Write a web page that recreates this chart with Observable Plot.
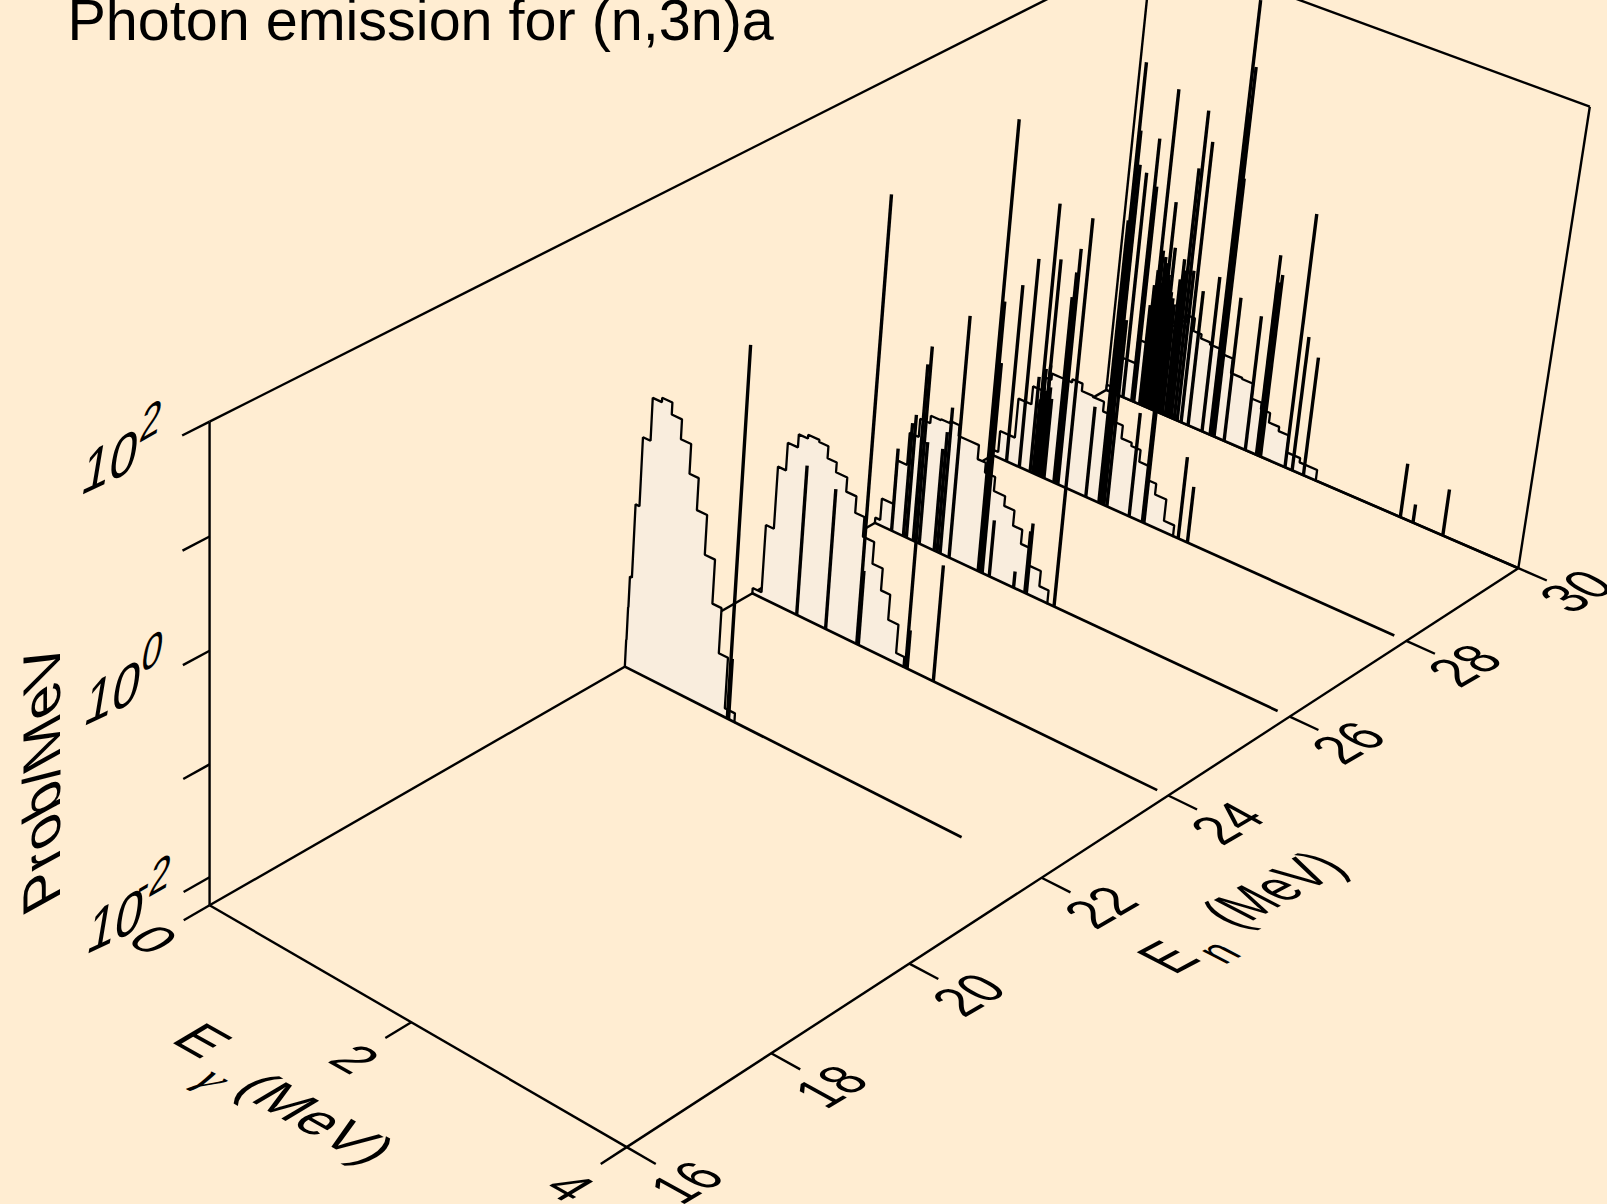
<!DOCTYPE html>
<html><head><meta charset="utf-8">
<script src="https://cdn.jsdelivr.net/npm/d3@7"></script>
<script src="https://cdn.jsdelivr.net/npm/@observablehq/plot@0.6"></script>
<style>html,body{margin:0;padding:0;background:#FFEDD2}svg{display:block}</style>
</head><body><div id="chart"></div>
<script>
const chartTitle = "Photon emission for (n,3n)a";
const enTicks = [16,18,20,22,24,26,28,30];
const eyTicks = [0,2,4];
const probTicks = [-2,-1,0,1,2];
const probLabels = [-2,0,2];
const eyRange = [0,4], enRange = [16,30], logRange = [-2.25,2];

const slice22Edges = [0,.003,.006,.026,.065,.14,.23,.33,.43,.53,.62,.72,.82,.91,1.0,1.1];
const slice22Log = [-2,-1.7,-1.42,-.75,-.12,.27,.31,.2,.02,-.25,-.54,-.9,-1.3,-1.71,-2.17];
const slice22SpikeE = [1.03,1.042];
const slice22SpikeL = [1.13,-1.7];
const slice22End = 3.27;

const slice24Edges = [0,.09,.17,.25,.35,.44,.55,.64,.73,.84,.94,1.03,1.14,1.24,1.33,1.43,1.51];
const slice24Log = [-2.2,-1.575,-1.0,-.745,-.625,-.59,-.61,-.72,-.81,-.94,-1.09,-1.27,-1.47,-1.67,-1.90,-2.16];
const slice24SpikeE = [.45,.74,1.05,1.065,1.53,1.545,1.8];
const slice24SpikeL = [-.87,-.96,1.86,-1.57,.68,-1.9,-1.19];
const slice24End = 3.9;

const slice26Edges = [0,.05,.17,.27,.36,.46,.56,.65,.74,.85,.94,1.02,1.12,1.23,1.33,1.42,1.51,1.63,1.72];
const slice26Log = [-2.2,-2.0,-1.59,-1.29,-1.12,-1.05,-1.04,-1.02,-1.12,-1.12,-1.25,-1.34,-1.47,-1.56,-1.70,-1.83,-1.99,-2.13];
const slice26SpikeE = [.17,.29,.32,.39,.45,.60,.63,.66,.75,1.04,1.06,1.08,1.15,1.39,1.50,1.515,1.785];
const slice26SpikeL = [-1.48,-1.19,-1.1,-.6,-1.3,-1.3,-1.13,-.89,0,1.93,.26,-.3,-1.73,-2.1,-1.68,-1.6,1.32];
const slice26End = 3.89;

const slice28Edges = [0,.05,.2,.33,.43,.5,.6,.7,.8,.91,1.02,1.13,1.22,1.32,1.41,1.5,1.59,1.7,1.8];
const slice28Log = [-2.2,-2.0,-1.63,-1.46,-1.33,-1.27,-1.27,-1.24,-1.31,-1.32,-1.41,-1.46,-1.58,-1.61,-1.72,-1.85,-1.95,-2.15];
const slice28SpikeE = [.14,.27,.38,.41,.44,.46,.48,.5,.52,.42,.48,.62,.64,.66,.94,1.07,1.085,1.10,1.12,1.15,1.37,1.5,1.515,1.85,1.94];
const slice28SpikeL = [-.58,-.28,-1.35,-1.55,-1.25,-1.45,-1.2,-1.4,-1.5,.3,-.2,-.5,-.26,-.03,-1.4,.4,1.88,1.25,.55,-.5,-1.28,0,-.3,-1.49,-1.73];
const slice28End = 3.89;

const slice30Edges = [0,.05,.12,.26,.4,.5,.6,.7,.78,.86,.95,1.06,1.18,1.29,1.4,1.5,1.59,1.69,1.79,1.92,2.09];
const slice30Log = [-2.2,-2.0,-1.89,-1.66,-1.5,-1.4,-1.32,-1.25,-1.37,-1.41,-1.43,-1.47,-1.61,-1.62,-1.76,-1.82,-1.91,-1.95,-2.11,-2.15];
const slice30SpikeE = [1.05,1.08,1.065,1.09,.39,.26,.17,.69,.76,.66,.48,.52,.28,.10,1.79,1.51,1.55,1.525,1.40,1.19,.97,.83,1.86,1.97,.72,.34,
  .36,.38,.40,.41,.43,.44,.45,.46,.47,.49,.50,.51,.53,.55,.57,.6,.62,.64,2.9,3.02,3.3];
const slice30SpikeL = [1.87,1.25,.8,.2,.78,.26,-.1,.69,.42,.13,-.26,-.68,-.19,-.05,.14,-.36,-.53,-.61,-.98,-.89,-.78,-.97,-.99,-1.14,-.82,-1.3,
  -1.1,-.95,-1.15,-.75,-1.05,-.8,-1.0,-.85,-1.1,-.95,-1.1,-1.0,-1.1,-1.15,-1.2,-.95,-.75,-.85,-1.75,-2.08,-1.82];
const slice30End = 4;

const slices = [
  {en:30,edges:slice30Edges,log:slice30Log,se:slice30SpikeE,sl:slice30SpikeL,end:slice30End},
  {en:28,edges:slice28Edges,log:slice28Log,se:slice28SpikeE,sl:slice28SpikeL,end:slice28End},
  {en:26,edges:slice26Edges,log:slice26Log,se:slice26SpikeE,sl:slice26SpikeL,end:slice26End},
  {en:24,edges:slice24Edges,log:slice24Log,se:slice24SpikeE,sl:slice24SpikeL,end:slice24End},
  {en:22,edges:slice22Edges,log:slice22Log,se:slice22SpikeE,sl:slice22SpikeL,end:slice22End},
];

// perspective camera: homogeneous 3x4 matrix over normalised axes
const cam = [[368.17,1036.82,-11.48,204],[164.89,-446.01,-495.1,883],[-.06355,.14997,-.05626,1]];
function proj(ey,en,lg){
  const s=(ey-eyRange[0])/(eyRange[1]-eyRange[0]), t=(en-enRange[0])/(enRange[1]-enRange[0]);
  const h0=(lg-logRange[0])/(logRange[1]-logRange[0]);
  const h=h0+.045*h0*(1-h0);
  const v=cam.map(r=>r[0]*s+r[1]*t+r[2]*h+r[3]);
  return [v[0]/v[2],v[1]/v[2]];
}
const zmin=logRange[0], zmax=logRange[1];
const px=d=>proj(d.ey,d.en,d.lg)[0], py=d=>proj(d.ey,d.en,d.lg)[1];
const seg=(a,b)=>({a,b});
const pt=(ey,en,lg)=>({ey,en,lg});
const linkOf=(data,opt={})=>Plot.link(data,{x1:d=>px(d.a),y1:d=>py(d.a),x2:d=>px(d.b),y2:d=>py(d.b),stroke:"#000",strokeWidth:2.4,strokeLinecap:"butt",...opt});

const frame=[
  seg(pt(0,16,zmin),pt(0,16,zmax)),
  seg(pt(0,30,zmin),pt(0,30,zmax)),
  seg(pt(4,30,zmin),pt(4,30,zmax)),
  seg(pt(0,16,zmax),pt(0,30,zmax)),
  seg(pt(0,30,zmax),pt(4,30,zmax)),
  seg(pt(0,16,zmin),pt(0,30,zmin)),
  seg(pt(0,30,zmin),pt(4,30,zmin)),
  seg(pt(0,16,zmin),pt(4,16,zmin)),
  seg(pt(4,16,zmin),pt(4,30,zmin)),
];
const ticks=[
  ...probTicks.map(l=>seg(pt(0,16,l),pt(0,15.65,l))),
  ...eyTicks.map(e=>seg(pt(e,16,zmin),pt(e,15.65,zmin))),
  ...enTicks.map(n=>seg(pt(4,n,zmin),pt(4.26,n,zmin))),
];

const sliceMarks=slices.flatMap(sl=>{
  const outline=[pt(sl.edges[0],sl.en,zmin)];
  sl.log.forEach((l,i)=>{outline.push(pt(sl.edges[i],sl.en,l),pt(sl.edges[i+1],sl.en,l));});
  outline.push(pt(sl.edges[sl.edges.length-1],sl.en,zmin));
  const spikes=sl.se.map((e,i)=>seg(pt(e,sl.en,zmin),pt(e,sl.en,sl.sl[i])));
  return [
    Plot.line(outline,{x:px,y:py,fill:"#F9EDDD",stroke:"#000",strokeWidth:2.3,strokeLinejoin:"miter",curve:"linear"}),
    linkOf(spikes,{strokeWidth:3.4}),
    linkOf([seg(pt(0,sl.en,zmin),pt(sl.end,sl.en,zmin))],{strokeWidth:2.7}),
  ];
});

const font="Liberation Sans, Arial, Helvetica, sans-serif";
const lab=(data,key,opt)=>Plot.text(data,{x:d=>proj(d.ey,d.en,d.lg)[0],y:d=>proj(d.ey,d.en,d.lg)[1],text:d=>d.t,fill:"#000",fontFamily:font,textAnchor:"middle",lineAnchor:"middle",ariaLabel:()=>key,...opt});

const marks=[
  linkOf(frame),
  linkOf(ticks),
  ...sliceMarks,
  lab(enTicks.map(n=>({ey:4.69,en:n,lg:zmin,t:String(n)})),"en-tick",{fontSize:52}),
  lab(eyTicks.map(e=>({ey:e,en:15.03,lg:zmin-.02,t:String(e)})),"ey-tick",{fontSize:54}),
  lab(probLabels.map(l=>({ey:0,en:14.7,lg:l-.08,t:"10"})),"z-tick",{fontSize:52}),
  lab(probLabels.map(l=>({ey:0,en:15.22,lg:l+.13,t:String(l)})),"z-exp",{fontSize:42}),
  lab([{ey:5.41,en:21.8,lg:zmin,t:"E"}],"en-title",{fontSize:56}),
  lab([{ey:5.43,en:23.4,lg:zmin,t:"(MeV)"}],"en-title",{fontSize:54}),
  lab([{ey:5.58,en:22.2,lg:zmin,t:"n"}],"en-title",{fontSize:44}),
  lab([{ey:1.12,en:14.2,lg:zmin,t:"E"},{ey:2.3,en:14.1,lg:zmin,t:"(MeV)"}],"ey-title",{fontSize:57}),
  lab([{ey:1.49,en:13.9,lg:zmin,t:"γ"}],"ey-title",{fontSize:48,fontFamily:"Liberation Serif",fontStyle:"italic"}),
  lab([{ey:0,en:14.07,lg:-.32,t:"Prob/MeV"}],"z-title",{fontSize:59}),
  Plot.text([chartTitle],{frameAnchor:"top-left",dx:67,dy:39,lineAnchor:"bottom",textAnchor:"start",fontFamily:font,fontSize:57.5,fill:"#000"}),
];

const svg=Plot.plot({
  width:1607,height:1204,margin:0,
  style:{background:"#FFEDD2",fontFamily:font},
  x:{domain:[0,1568],range:[0,1607],axis:null},
  y:{domain:[0,1175],range:[0,1204],axis:null},
  marks
});

// glyphs lie in the planes of the 3-D box: shear each label group accordingly
const shears={
  "en-tick":[.8,-.47,1.0,.55],
  "en-title":[.77,-.41,1.06,.55],
  "ey-tick":[.87,.49,-.857,.514],
  "ey-title":[.87,.49,-.857,.514],
  "z-tick":[.95,-.45,-.2,1.2],
  "z-exp":[.87,-.5,-.2,1.2],
  "z-title":[0,-1,.9,-.5],
};
Object.entries(shears).forEach(([k,m])=>{
  d3.select(svg).selectAll(`text[aria-label="${k}"]`).each(function(){
    const el=d3.select(this);
    const tr=el.attr("transform")||"";
    const mm=/translate\(([^,]+),([^)]+)\)/.exec(tr);
    const x=mm?+mm[1]:+(el.attr("x")||0), y=mm?+mm[2]:+(el.attr("y")||0);
    el.attr("x",null).attr("y",null).attr("transform",`translate(${x},${y}) matrix(${m.join(",")},0,0)`);
  });
});
document.getElementById("chart").appendChild(svg);
</script></body></html>
